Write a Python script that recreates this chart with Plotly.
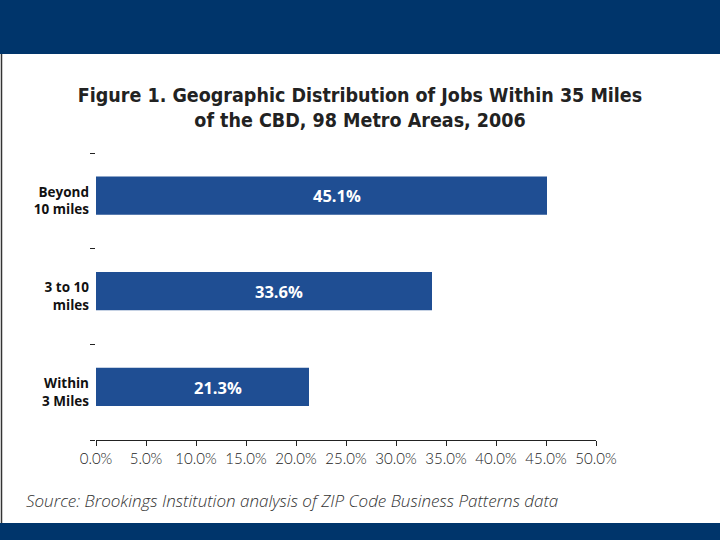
import plotly.graph_objects as go

categories = ["Within<br>3 Miles", "3 to 10<br>miles", "Beyond<br>10 miles"]
values = [21.3, 33.6, 45.1]
value_labels = ["21.3%", "33.6%", "45.1%"]
x_ticks = [0, 5, 10, 15, 20, 25, 30, 35, 40, 45, 50]
x_tick_labels = ["0.0%", "5.0%", "10.0%", "15.0%", "20.0%", "25.0%",
                 "30.0%", "35.0%", "40.0%", "45.0%", "50.0%"]

NAVY = "#00356b"
BAR = "#1f4e93"

fig = go.Figure()
fig.add_trace(go.Bar(
    y=categories, x=values, orientation="h",
    marker=dict(color=BAR, line=dict(width=0)),
    width=0.4, offset=-0.145,
    hoverinfo="skip",
))

# value labels inside bars, slightly right of each bar's centre
label_annotations = [
    dict(x=v / 2, y=c, text=t, xref="x", yref="y", showarrow=False,
         xshift=15, yshift=5,
         font=dict(family="Open Sans", size=16.5, color="white", weight="bold"))
    for c, v, t in zip(categories, values, value_labels)
]

fig.update_layout(
    width=720, height=540,
    margin=dict(l=96, r=124, t=153, b=100),
    paper_bgcolor="white", plot_bgcolor="white",
    showlegend=False,
    title=dict(
        text="Figure 1. Geographic Distribution of Jobs Within 35 Miles<br>of the CBD, 98 Metro Areas, 2006",
        x=0.5, xanchor="center", y=0.811, yanchor="middle",
        font=dict(family="DejaVu Sans Condensed", size=19.5, color="#222222", weight="bold"),
    ),
    xaxis=dict(
        range=[0, 50], tickvals=x_ticks, ticktext=x_tick_labels,
        showgrid=False, zeroline=False,
        showline=True, linecolor="#222222", linewidth=1,
        ticks="outside", ticklen=5, tickcolor="#222222",
        tickfont=dict(family="Lato", size=15, color="#222222", weight=300),
        fixedrange=True,
    ),
    yaxis=dict(
        type="category", tickson="boundaries",
        showgrid=False, zeroline=False, showline=False,
        ticks="outside", ticklen=5, tickcolor="#222222",
        tickfont=dict(family="Open Sans", size=13.5, color="#111111", weight="bold"),
        ticklabelstandoff=6,
        fixedrange=True,
    ),
    shapes=[
        dict(type="rect", xref="paper", yref="paper", x0=-0.2, x1=1.26, y0=1.345, y1=1.55,
             fillcolor=NAVY, line=dict(width=0), layer="below"),
        dict(type="rect", xref="paper", yref="paper", x0=-0.2, x1=1.26, y0=-0.289, y1=-0.36,
             fillcolor=NAVY, line=dict(width=0), layer="below"),
        dict(type="line", xref="paper", yref="paper", x0=-0.189, x1=-0.189, y0=-0.289, y1=1.345,
             line=dict(color="#333333", width=1.5)),
    ],
    annotations=label_annotations + [
        dict(text="Source: Brookings Institution analysis of ZIP Code Business Patterns data",
             xref="paper", yref="paper", x=-0.145, y=-0.21, xanchor="left", yanchor="middle",
             showarrow=False,
             font=dict(family="Open Sans", size=17, color="#333333", style="italic", weight=300)),
    ],
)

fig.write_html("out.html", config={"displayModeBar": False},
               post_script="document.body.style.margin='0';")
